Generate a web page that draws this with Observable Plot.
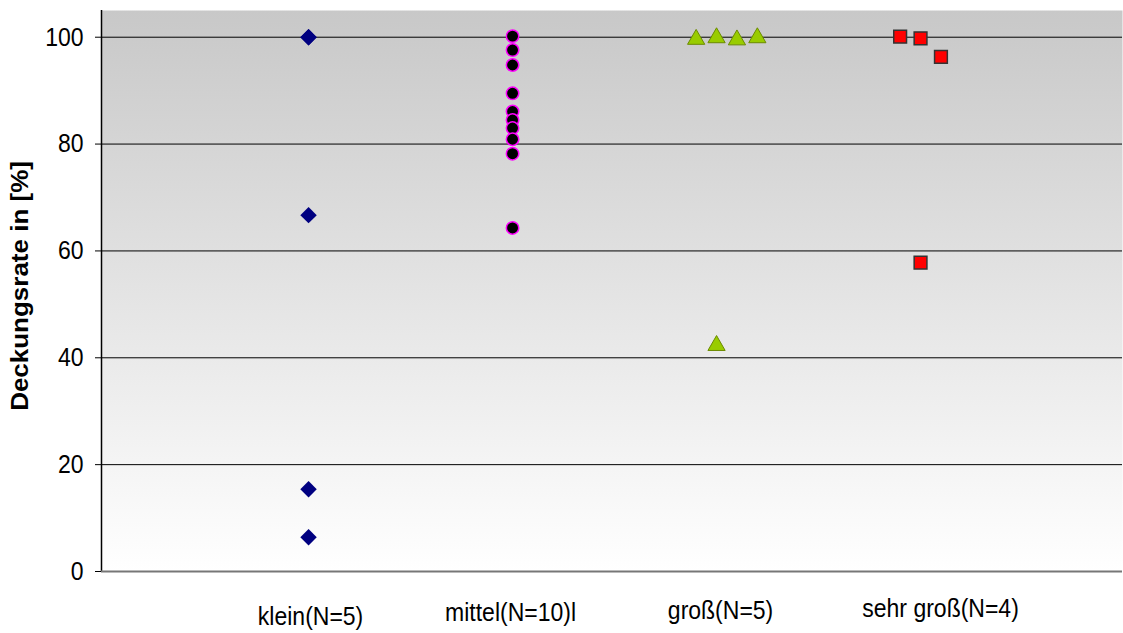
<!DOCTYPE html>
<html>
<head>
<meta charset="utf-8">
<script src="https://cdn.jsdelivr.net/npm/d3@7"></script>
<script src="https://cdn.jsdelivr.net/npm/@observablehq/plot@0.6"></script>
<style>
  html, body { margin: 0; padding: 0; background: #ffffff; }
  #chart { width: 1123px; height: 633px; }
  svg { font-family: "Liberation Sans", Arial, sans-serif; }
</style>
</head>
<body>
<div id="chart"></div>
<script>
// Categories and tick labels
const categories = ["klein(N=5)", "mittel(N=10)l", "groß(N=5)", "sehr groß(N=4)"];
const categoryPos = [1, 2, 3, 4];
const yTicks = [0, 20, 40, 60, 80, 100];

// Series: x position (category value incl. small offsets) and Deckungsrate [%]
const kleinX = [1, 1, 1, 1, 1];
const kleinY = [100, 100, 66.7, 15.4, 6.4];

const mittelX = [2, 2, 2, 2, 2, 2, 2, 2, 2, 2];
const mittelY = [100.2, 97.6, 94.8, 89.5, 86.1, 84.5, 83.0, 80.9, 78.2, 64.3];

const grossX = [2.9, 3.0, 3.1, 3.2, 3.0];
const grossY = [99.6, 99.9, 99.5, 99.9, 42.3];

const sehrGrossX = [3.9, 4.0, 4.1, 4.0];
const sehrGrossY = [100.1, 99.8, 96.3, 57.8];

const toRows = (xs, ys) => xs.map((x, i) => ({x, y: ys[i]}));
const klein = toRows(kleinX, kleinY);
const mittel = toRows(mittelX, mittelY);
const gross = toRows(grossX, grossY);
const sehrGross = toRows(sehrGrossX, sehrGrossY);

const defs = () => {
  const svgNS = "http://www.w3.org/2000/svg";
  const d = document.createElementNS(svgNS, "defs");
  d.innerHTML = `<linearGradient id="bgGrad" x1="0" y1="0" x2="0" y2="1">
      <stop offset="0" stop-color="#c8c8c8"/>
      <stop offset="1" stop-color="#ffffff"/>
    </linearGradient>`;
  return d;
};

const xLabelAxes = categoryPos.map((p, i) =>
  Plot.axisX([p], {tickSize: 0, tickPadding: 31, label: null, fontSize: 23,
    dx: [2, -2, 4, 20][i], dy: [4, 0, -2, -4][i],
    tickFormat: () => categories[i]}));

const chart = Plot.plot({
  width: 1123,
  height: 633,
  marginLeft: 101,
  marginRight: 1,
  marginTop: 10,
  marginBottom: 62,
  style: {fontFamily: "'Liberation Sans', Arial, sans-serif", fontSize: "23px", color: "#000", background: "#fff"},
  x: {domain: [-0.015, 4.99], axis: null},
  y: {domain: [0, 105], axis: null},
  marks: [
    defs,
    Plot.frame({fill: "url(#bgGrad)", stroke: null}),
    Plot.gridY(yTicks.filter(d => d > 0), {stroke: "#000", strokeOpacity: 1, strokeWidth: 1}),
    Plot.axisY(yTicks, {tickSize: 6, tickPadding: 12, label: null, fontSize: 23, stroke: "#000"}),
    Plot.ruleX([-0.015], {stroke: "#000", strokeWidth: 1.5}),
    Plot.ruleY([0], {stroke: "#777", strokeWidth: 2}),
    ...xLabelAxes,
    Plot.text(["Deckungsrate in [%]"], {frameAnchor: "left", dx: -81, dy: -5, rotate: -90,
      textAnchor: "middle", fontWeight: "bold", fontSize: 23}),
    Plot.dot(klein, {x: "x", y: "y", symbol: "diamond2", r: 7.4, fill: "#000080", stroke: null}),
    Plot.dot(mittel, {x: "x", y: "y", symbol: "circle", r: 6.2, fill: "#000", stroke: "#ff00ff", strokeWidth: 1.5}),
    Plot.dot(gross, {x: "x", y: "y", symbol: "triangle", r: 6.4, fill: "#99cc00", stroke: "#6b8a00", strokeWidth: 1}),
    Plot.dot(sehrGross, {x: "x", y: "y", symbol: "square", r: 7.2, fill: "#ff0000", stroke: "#333", strokeWidth: 1.5})
  ]
});

// The reference text is drawn taller than wide: stretch glyphs vertically on screen
const stretch = 1.13;
chart.querySelectorAll("text").forEach(t => {
  const tr = t.getAttribute("transform");
  if (tr && tr.includes("rotate")) {
    t.setAttribute("transform", tr + ` scale(${stretch},1)`);
  } else if (tr) {
    t.setAttribute("transform", tr + ` scale(1,${stretch})`);
  } else {
    const x = +(t.getAttribute("x") || 0), y = +(t.getAttribute("y") || 0);
    t.setAttribute("transform", `translate(${x},${y}) scale(1,${stretch}) translate(${-x},${-y})`);
  }
});

document.getElementById("chart").appendChild(chart);
</script>
</body>
</html>
